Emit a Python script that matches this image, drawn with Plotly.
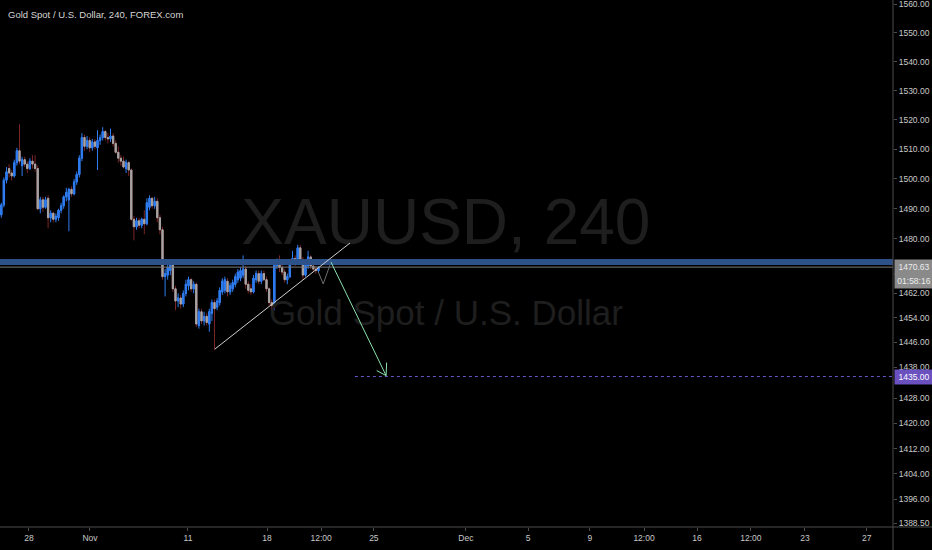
import math
import plotly.graph_objects as go

# ---------------- data ----------------
title_text = "Gold Spot / U.S. Dollar, 240, FOREX.com"
watermark_symbol = "XAUUSD, 240"
watermark_name = "Gold Spot / U.S. Dollar"

opens = [1488, 1491.3, 1499.6, 1503.5, 1502, 1501, 1505.5, 1509.5, 1504.5, 1506.5,
         1505, 1503.5, 1506, 1505, 1503.5, 1490, 1493, 1490.5, 1493.5, 1487,
         1488.5, 1486.5, 1487, 1489.5, 1491, 1494, 1493, 1496.5, 1495, 1499,
         1501.5, 1507, 1514, 1511, 1513, 1510.5, 1512.5, 1510.5, 1513, 1514,
         1516, 1514, 1513.5, 1514.5, 1512, 1509, 1507, 1506, 1503.5, 1505.5,
         1503, 1486.5, 1484, 1486, 1484.5, 1486.5, 1485, 1490.5, 1493.5, 1491,
         1492.5, 1487, 1483, 1467.5, 1468, 1469.5, 1471.5, 1463.5, 1459.5, 1460.5,
         1458.5, 1462, 1464.5, 1466.5, 1463.5, 1465, 1451.5, 1456, 1453, 1454.5,
         1452, 1455.5, 1459, 1457.5, 1459, 1462.5, 1463, 1466, 1462.5, 1463.5,
         1465, 1466.5, 1467, 1468, 1470, 1465, 1463.5, 1462.5, 1466.5, 1468.5,
         1466, 1468.5, 1466.5, 1463.5, 1459, 1458, 1471, 1472.5, 1470.5, 1469,
         1466.5, 1467.5, 1472, 1473.5, 1472, 1477, 1473, 1468, 1471, 1474,
         1471, 1470, 1469.5]
closes = [1491.3, 1499.6, 1502.4, 1502, 1501, 1505.5, 1509.5, 1506, 1506.5, 1505,
          1503.5, 1506, 1505, 1503.5, 1490, 1493, 1490.5, 1493, 1487, 1488.5,
          1486.5, 1487.5, 1489.5, 1491, 1494, 1495.5, 1496.5, 1495, 1499, 1501.5,
          1507, 1514, 1511, 1513, 1510.5, 1512.5, 1511, 1513, 1514, 1516,
          1514, 1513.5, 1514.5, 1512, 1509, 1507, 1506, 1504, 1505.5, 1503,
          1486.5, 1484, 1486, 1484.5, 1486.5, 1485, 1492, 1493.5, 1491, 1492.5,
          1487, 1483, 1467.5, 1468.5, 1470.5, 1471.5, 1463.5, 1459.5, 1460.5, 1458.5,
          1462, 1465, 1466.5, 1463.5, 1465, 1452, 1456, 1453, 1454.5, 1452.5,
          1456, 1459, 1457, 1459.5, 1463, 1466, 1466.5, 1462.5, 1464.5, 1465.5,
          1467.5, 1469, 1469.5, 1470, 1465, 1463, 1462.5, 1467, 1468.5, 1466,
          1468.5, 1466.5, 1463.5, 1459, 1458, 1471.5, 1472.5, 1470.5, 1469, 1466.5,
          1467.5, 1472, 1473.5, 1472, 1477, 1473, 1468, 1472, 1474, 1471,
          1470, 1469.5, 1470.63]
highs = [1492, 1500.5, 1504, 1505, 1503, 1506.5, 1510.5, 1518.5, 1507.5, 1507.5,
         1506, 1507, 1508, 1508, 1504.5, 1494, 1494, 1494, 1494.5, 1489.5,
         1489, 1488.5, 1490, 1492, 1494.5, 1497, 1497, 1497.5, 1500, 1502.5,
         1508, 1515.5, 1515, 1514.5, 1514, 1513.5, 1513.5, 1516.5, 1515, 1517.5,
         1516.5, 1515.5, 1517, 1515.5, 1513, 1511, 1508, 1507.5, 1506.5, 1506,
         1503.5, 1487.5, 1487, 1487, 1487, 1489.5, 1493.5, 1494.5, 1494, 1494,
         1493.5, 1488, 1484, 1470, 1471.5, 1472.5, 1472.5, 1464.5, 1462, 1461.5,
         1463, 1466.5, 1467.5, 1467, 1466, 1465.5, 1457, 1457, 1456, 1455.5,
         1457, 1460, 1460, 1460.5, 1464, 1467, 1467.5, 1467, 1465.5, 1466.5,
         1468.5, 1470, 1470.5, 1474.5, 1471, 1466, 1465, 1468, 1469.5, 1469.5,
         1469.5, 1469.5, 1467.5, 1464, 1460, 1472.5, 1473.5, 1474.5, 1471.5, 1470,
         1468.5, 1473, 1476, 1474.5, 1478, 1478, 1474, 1473, 1476, 1474.5,
         1472, 1471, 1471]
lows = [1487, 1490.5, 1498.5, 1500.5, 1499.5, 1500.5, 1504.5, 1505, 1501, 1504,
        1502, 1503, 1503.5, 1502.5, 1489.5, 1488.5, 1489, 1490, 1483.5, 1485.5,
        1485.5, 1485.5, 1486, 1488.5, 1490, 1492.5, 1482.5, 1494, 1494.5, 1498,
        1500.5, 1506, 1509.5, 1510, 1509, 1509.5, 1510, 1503, 1511.5, 1513,
        1513, 1512, 1512.5, 1511, 1508.5, 1505.5, 1504.5, 1503.5, 1502, 1501,
        1486, 1479.5, 1483, 1483.5, 1483.5, 1481.5, 1484.5, 1489.5, 1490, 1490,
        1485.5, 1481.5, 1466.5, 1461, 1466.5, 1468, 1462.5, 1456.5, 1457.5, 1457,
        1457.5, 1461, 1463, 1462.5, 1462, 1451, 1450.5, 1452, 1451.5, 1451.5,
        1449.5, 1453, 1443.5, 1456.5, 1458, 1461.5, 1462, 1461, 1461.5, 1462.5,
        1464, 1465.5, 1466, 1467, 1463.5, 1462, 1461.5, 1462, 1465.5, 1465,
        1465, 1466, 1462.5, 1458, 1456.5, 1456.5, 1470, 1469, 1468, 1465.5,
        1465, 1467, 1471.5, 1471, 1471.5, 1472, 1466.5, 1467.5, 1470, 1470,
        1469, 1468.5, 1469]
bar_index = list(range(len(closes)))

# x axis (bar-index positions of the date labels)
x_tick_pos = [10.65, 34.1, 71.8, 102.2, 123.0, 143.3, 178.7, 202.6, 226.4, 247.2, 267.6, 288.3, 309.1, 332.9]
x_tick_labels = ["28", "Nov", "11", "18", "12:00", "25", "Dec", "5", "9", "12:00", "16", "12:00", "23", "27"]
x_range = [-0.5, 342.96]

# y axis (log scale price)
y_tick_vals = [1560, 1550, 1540, 1530, 1520, 1510, 1500, 1490, 1480,
               1462, 1454, 1446, 1438, 1428, 1420, 1412, 1404, 1396, 1388.5]
y_tick_labels = ["%.2f" % v for v in y_tick_vals]
y_range = [1387.4, 1561.4]

# drawings
support_level = 1472.3
last_price = 1470.63
countdown = "01:58:16"
target_price = 1435.0
target_start_idx = 136.0
trend_x = [82.2, 134.1]
trend_y = [1443.9, 1478.6]
vee_x = [121.9, 123.8, 126.4]
vee_y = [1469.1, 1465.1, 1471.3]
arrow_x = [126.8, 148.0, None, 144.4, 148.0, None, 148.2, 148.0]
arrow_y = [1472.3, 1435.3, None, 1436.9, 1435.3, None, 1439.5, 1435.3]
watermark_x = 171.0
watermark_y1 = 1483.6
watermark_y2 = 1454.6

# ---------------- style ----------------
FONT = "Liberation Sans, Arial, sans-serif"
UP = "#2f7cf0"
DN = "#a6a6a6"
DN_WICK = "#7a2525"
AXIS = "#4d4d4d"
TXT = "#c9c9c9"
WM = "#1e1e1e"

body_top = [max(o, c) for o, c in zip(opens, closes)]
body_bot = [min(o, c) for o, c in zip(opens, closes)]

fig = go.Figure()

# watermark behind everything
fig.add_trace(go.Scatter(x=[watermark_x], y=[watermark_y1], mode="text", text=[watermark_symbol],
                         textfont=dict(size=64, color=WM, family=FONT), hoverinfo="skip", showlegend=False))
fig.add_trace(go.Scatter(x=[watermark_x], y=[watermark_y2], mode="text", text=[watermark_name],
                         textfont=dict(size=35, color=WM, family=FONT), hoverinfo="skip", showlegend=False))

# candles: wicks
fig.add_trace(go.Candlestick(x=bar_index, open=opens, high=highs, low=lows, close=closes,
                             increasing=dict(line=dict(color=UP, width=1), fillcolor=UP),
                             decreasing=dict(line=dict(color=DN_WICK, width=1), fillcolor=DN),
                             whiskerwidth=0, hoverinfo="skip", showlegend=False))
# candles: bodies
fig.add_trace(go.Candlestick(x=bar_index, open=opens, high=body_top, low=body_bot, close=closes,
                             increasing=dict(line=dict(color=UP, width=1), fillcolor=UP),
                             decreasing=dict(line=dict(color=DN, width=1), fillcolor=DN),
                             whiskerwidth=0, hoverinfo="skip", showlegend=False))

# support band
fig.add_trace(go.Scatter(x=x_range, y=[support_level, support_level], mode="lines",
                         line=dict(color="#2d5189", width=6), hoverinfo="skip", showlegend=False))
# last price line
fig.add_trace(go.Scatter(x=x_range, y=[last_price, last_price], mode="lines",
                         line=dict(color="#7a7a7a", width=1), hoverinfo="skip", showlegend=False))
# target dotted line
fig.add_trace(go.Scatter(x=[target_start_idx, x_range[1]], y=[target_price, target_price], mode="lines",
                         line=dict(color="#6a55c8", width=1, dash="dot"), hoverinfo="skip", showlegend=False))
# trend line
fig.add_trace(go.Scatter(x=trend_x, y=trend_y, mode="lines",
                         line=dict(color="#cfcfcf", width=1), hoverinfo="skip", showlegend=False))
# small V
fig.add_trace(go.Scatter(x=vee_x, y=vee_y, mode="lines",
                         line=dict(color="#6f6f6f", width=1), hoverinfo="skip", showlegend=False))
# arrow
fig.add_trace(go.Scatter(x=arrow_x, y=arrow_y, mode="lines", connectgaps=False,
                         line=dict(color="#8de3ad", width=1), hoverinfo="skip", showlegend=False))

W, H = 932, 550
ML, MR, MT, MB = 0, 39, 0, 23
PW, PH = W - ML - MR, H - MT - MB

fig.update_layout(
    width=W, height=H,
    margin=dict(l=ML, r=MR, t=MT, b=MB, pad=0),
    paper_bgcolor="#000000", plot_bgcolor="#000000",
    showlegend=False, hovermode=False,
    xaxis=dict(range=x_range, tickvals=x_tick_pos, ticktext=x_tick_labels,
               ticks="outside", ticklen=3, tickcolor=AXIS,
               tickfont=dict(size=8.5, color=TXT, family=FONT),
               showgrid=False, zeroline=False, showline=False,
               rangeslider=dict(visible=False), fixedrange=True),
    yaxis=dict(type="log", side="right",
               range=[math.log10(y_range[0]), math.log10(y_range[1])],
               tickvals=y_tick_vals, ticktext=y_tick_labels,
               ticks="outside", ticklen=3, tickcolor=AXIS,
               ticklabeloverflow="allow",
               tickfont=dict(size=8.5, color=TXT, family=FONT),
               showgrid=False, zeroline=False, showline=False, fixedrange=True),
    shapes=[
        dict(type="line", xref="paper", yref="paper", x0=1, x1=1, y0=-MB / PH, y1=1,
             line=dict(color=AXIS, width=1), layer="above"),
        dict(type="line", xref="paper", yref="paper", x0=0, x1=W / PW, y0=0, y1=0,
             line=dict(color=AXIS, width=1), layer="above"),
    ],
    annotations=[
        dict(text=title_text, xref="paper", yref="paper", x=6 / PW, y=1, xanchor="left", yanchor="top",
             yshift=-7, showarrow=False, font=dict(size=9.5, color="#d6d6d6", family=FONT)),
        dict(text="%.2f" % last_price, xref="paper", yref="y", x=1, y=math.log10(last_price),
             xanchor="left", yanchor="middle", xshift=1, showarrow=False, width=36, height=12,
             bgcolor="#8a8a8a", font=dict(size=8.5, color="#ececec", family=FONT)),
        dict(text=countdown, xref="paper", yref="y", x=1, y=math.log10(last_price),
             xanchor="left", yanchor="middle", xshift=1, yshift=-14, showarrow=False, width=36, height=12,
             bgcolor="#8a8a8a", font=dict(size=8.5, color="#ececec", family=FONT)),
        dict(text="%.2f" % target_price, xref="paper", yref="y", x=1, y=math.log10(target_price),
             xanchor="left", yanchor="middle", xshift=1, showarrow=False, width=36, height=12,
             bgcolor="#6b50c0", font=dict(size=8.5, color="#ffffff", family=FONT)),
    ],
)

fig.write_html("out.html", config={"displayModeBar": False},
               post_script="document.body.style.margin='0';document.body.style.padding='0';")
